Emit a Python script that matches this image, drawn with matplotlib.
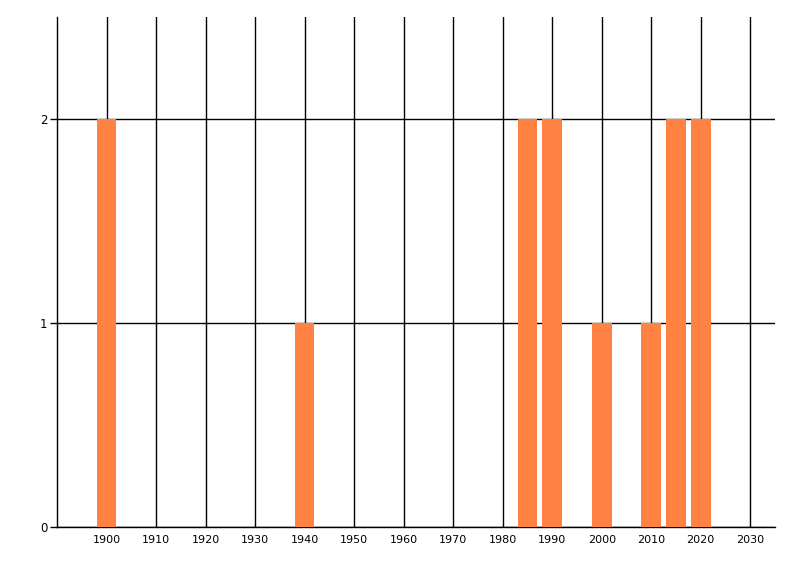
import matplotlib
matplotlib.use("Agg")
import matplotlib.pyplot as plt

years = [1900, 1940, 1985, 1990, 2000, 2010, 2015, 2020]
counts = [2, 1, 2, 2, 1, 1, 2, 2]
x_ticks = list(range(1900, 2031, 10))
y_ticks = [0, 1, 2]

fig = plt.figure(figsize=(8, 5.76), dpi=100)
ax = fig.add_axes([57 / 800, 1 - 527 / 576, (775 - 57) / 800, (527 - 17) / 576])

ax.bar(years, counts, width=4, color="#FF8243", zorder=3)

ax.set_xlim(1890, 2035)
ax.set_ylim(0, 2.5)
ax.set_xticks(x_ticks)
ax.set_yticks(y_ticks)
ax.grid(True, color="black", linewidth=1, zorder=1)
ax.set_axisbelow(True)

for side in ("top", "right"):
    ax.spines[side].set_visible(False)
for side in ("left", "bottom"):
    ax.spines[side].set_color("black")
    ax.spines[side].set_linewidth(1)

ax.tick_params(axis="x", length=0, pad=6, labelsize=8)
ax.tick_params(axis="y", length=5, width=1, pad=2, labelsize=8.5)

fig.savefig("out.png", dpi=100)
